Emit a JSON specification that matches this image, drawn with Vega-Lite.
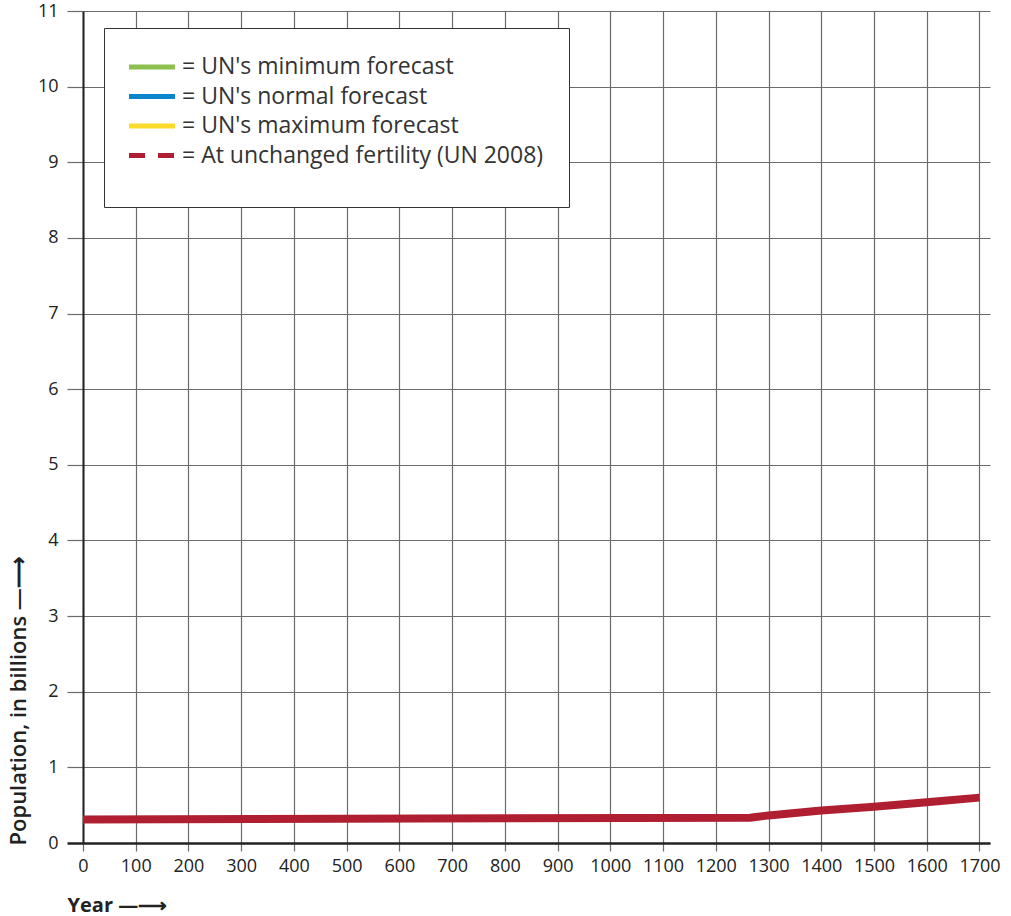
{
  "$schema": "https://vega.github.io/schema/vega-lite/v6.json",
  "width": 907,
  "height": 832,
  "autosize": {"type": "none"},
  "padding": {"left": 83, "top": 11, "right": 21, "bottom": 73},
  "background": "white",
  "config": {"view": {"stroke": null}, "font": "Open Sans"},
  "data": {
    "values": [
      {"year": 0, "population": 0.31, "series": "At unchanged fertility (UN 2008)"},
      {"year": 1265, "population": 0.335, "series": "At unchanged fertility (UN 2008)"},
      {"year": 1300, "population": 0.365, "series": "At unchanged fertility (UN 2008)"},
      {"year": 1400, "population": 0.43, "series": "At unchanged fertility (UN 2008)"},
      {"year": 1500, "population": 0.48, "series": "At unchanged fertility (UN 2008)"},
      {"year": 1600, "population": 0.54, "series": "At unchanged fertility (UN 2008)"},
      {"year": 1700, "population": 0.6, "series": "At unchanged fertility (UN 2008)"}
    ]
  },
  "mark": {"type": "line", "strokeWidth": 8, "strokeCap": "butt"},
  "encoding": {
    "x": {
      "field": "year",
      "type": "quantitative",
      "scale": {"domain": [0, 1720], "nice": false, "zero": false},
      "axis": {
        "values": [0, 100, 200, 300, 400, 500, 600, 700, 800, 900, 1000, 1100, 1200, 1300, 1400, 1500, 1600, 1700],
        "format": "d",
        "labelFlush": false,
        "grid": true,
        "gridColor": "#6b6b6b",
        "gridWidth": 1.2,
        "tickColor": "#6b6b6b",
        "tickWidth": 1.2,
        "tickSize": 8,
        "domainColor": "#222222",
        "domainWidth": 2.5,
        "labelFontSize": 18,
        "labelColor": "#222222",
        "labelPadding": 6,
        "title": "Year —⟶",
        "titleFontSize": 20,
        "titleFontWeight": "bold",
        "titleColor": "#222222",
        "titleAnchor": "start",
        "titleAlign": "left",
        "titleBaseline": "middle",
        "titleX": -16,
        "titleY": 62
      }
    },
    "y": {
      "field": "population",
      "type": "quantitative",
      "scale": {"domain": [0, 11], "nice": false},
      "axis": {
        "values": [0, 1, 2, 3, 4, 5, 6, 7, 8, 9, 10, 11],
        "grid": true,
        "gridColor": "#6b6b6b",
        "gridWidth": 1.2,
        "tickColor": {"condition": {"test": "datum.value === 0", "value": "#222222"}, "value": "#6b6b6b"},
        "tickWidth": {"condition": {"test": "datum.value === 0", "value": 2.5}, "value": 1.2},
        "tickSize": 16,
        "domainColor": "#222222",
        "domainWidth": 2,
        "labelFontSize": 18,
        "labelColor": "#222222",
        "labelPadding": 9,
        "title": "Population, in billions —⟶",
        "titleFontSize": 22,
        "titleFontWeight": 600,
        "titleColor": "#222222",
        "titleAnchor": "start",
        "titleAngle": 270,
        "titleAlign": "left",
        "titleBaseline": "middle",
        "titleX": -65,
        "titleY": 834
      }
    },
    "color": {
      "field": "series",
      "type": "nominal",
      "scale": {
        "domain": ["UN's minimum forecast", "UN's normal forecast", "UN's maximum forecast", "At unchanged fertility (UN 2008)"],
        "range": ["#8dc050", "#0a87cc", "#fcdc2a", "#b01e32"]
      },
      "legend": {
        "orient": "none",
        "legendX": 21,
        "legendY": 17,
        "title": "\u00a0\u00a0\u00a0\u00a0\u00a0\u00a0\u00a0\u00a0\u00a0\u00a0\u00a0\u00a0\u00a0\u00a0\u00a0\u00a0\u00a0\u00a0\u00a0\u00a0\u00a0\u00a0\u00a0\u00a0\u00a0\u00a0\u00a0\u00a0\u00a0\u00a0\u00a0\u00a0\u00a0\u00a0\u00a0\u00a0\u00a0\u00a0\u00a0\u00a0\u00a0\u00a0\u00a0\u00a0\u00a0\u00a0\u00a0\u00a0\u00a0\u00a0\u00a0\u00a0\u00a0\u00a0\u00a0\u00a0\u00a0\u00a0\u00a0\u00a0\u00a0\u00a0\u00a0\u00a0\u00a0\u00a0\u00a0\u00a0\u00a0\u00a0\u00a0\u00a0\u00a0\u00a0\u00a0\u00a0\u00a0\u00a0\u00a0\u00a0\u00a0\u00a0\u00a0\u00a0\u00a0\u00a0\u00a0\u00a0\u00a0\u00a0\u00a0\u00a0\u00a0\u00a0\u00a0\u00a0\u00a0\u00a0\u00a0\u00a0\u00a0\u00a0\u00a0\u00a0\u00a0\u00a0\u00a0\u00a0\u00a0\u00a0\u00a0\u00a0\u00a0\u00a0\u00a0\u00a0\u00a0\u00a0\u00a0\u00a0\u00a0\u00a0\u00a0\u00a0\u00a0\u00a0\u00a0\u00a0\u00a0\u00a0\u00a0\u00a0\u00a0\u00a0\u00a0\u00a0\u00a0\u00a0\u00a0\u00a0\u00a0\u00a0\u00a0\u00a0\u00a0\u00a0\u00a0\u00a0\u00a0\u00a0\u00a0\u00a0\u00a0\u00a0\u00a0\u00a0\u00a0\u00a0\u00a0\u00a0\u00a0\u00a0\u00a0\u00a0\u00a0",
        "titleOrient": "bottom",
        "titleFontSize": 14,
        "titleLimit": 1000,
        "titlePadding": 0,
        "fillColor": "white",
        "strokeColor": "#333333",
        "padding": 25,
        "symbolType": "M-2,0H2",
        "symbolSize": 529,
        "symbolStrokeWidth": 5,
        "symbolOffset": 9,
        "labelFontSize": 23,
        "labelColor": "#333333",
        "labelOffset": 16,
        "labelLimit": 500,
        "rowPadding": 3.5,
        "labelExpr": "'= ' + datum.label",
        "encode": {
          "symbols": {
            "update": {
              "strokeDash": {"signal": "datum.value === 'At unchanged fertility (UN 2008)' ? [16, 13] : [1, 0]"}
            }
          }
        }
      }
    }
  }
}
